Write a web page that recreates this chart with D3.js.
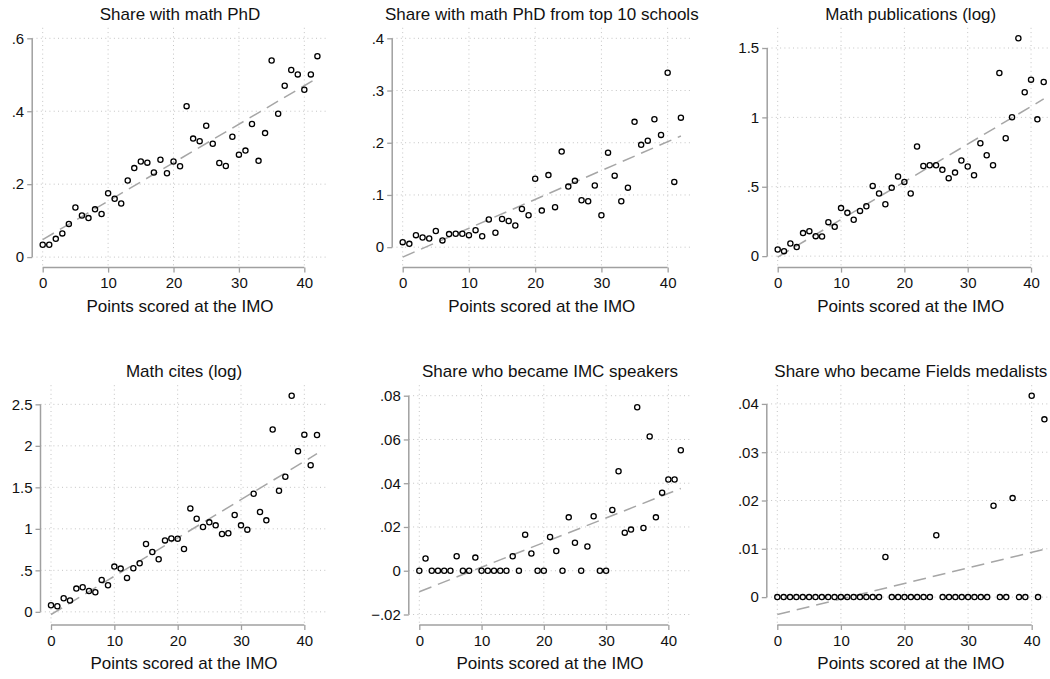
<!DOCTYPE html>
<html>
<head>
<meta charset="utf-8">
<script src="https://cdn.jsdelivr.net/npm/d3@7"></script>
<style>
  body { margin: 0; background: #fff; }
  svg { display: block; font-family: "Liberation Sans", Arial, sans-serif; }
</style>
</head>
<body>
<svg id="chart" width="1050" height="679"></svg>
<script>
// points scored at the IMO (x for every panel)
var pointsScored = [0,1,2,3,4,5,6,7,8,9,10,11,12,13,14,15,16,17,18,19,20,
  21,22,23,24,25,26,27,28,29,30,31,32,33,34,35,36,37,38,39,40,41,42];
var xTicks = [0, 10, 20, 30, 40];

// binned means
var mathPhd = [0.034,0.034,0.050,0.065,0.091,0.136,0.114,0.107,0.131,0.118,0.175,
  0.160,0.147,0.210,0.244,0.262,0.259,0.232,0.267,0.230,0.262,0.249,0.414,0.325,
  0.318,0.360,0.311,0.258,0.250,0.330,0.281,0.292,0.365,0.264,0.340,0.539,0.393,
  0.470,0.513,0.501,0.459,0.501,0.551];
var phdTop10 = [0.0096,0.0064,0.023,0.0185,0.0166,0.031,0.013,0.025,0.0256,0.0256,
  0.023,0.0326,0.021,0.053,0.0275,0.054,0.050,0.0415,0.073,0.061,0.131,0.070,0.138,
  0.0767,0.183,0.116,0.127,0.090,0.088,0.118,0.061,0.181,0.137,0.088,0.114,0.240,
  0.196,0.204,0.245,0.215,0.334,0.125,0.248];
var mathPubsLog = [0.048,0.036,0.091,0.065,0.166,0.180,0.144,0.142,0.245,0.211,0.346,
  0.312,0.262,0.326,0.360,0.506,0.451,0.374,0.492,0.574,0.535,0.451,0.790,0.650,
  0.655,0.655,0.622,0.562,0.602,0.689,0.646,0.583,0.814,0.727,0.655,1.320,0.850,
  1.001,1.570,1.181,1.272,0.986,1.255];
var mathCitesLog = [0.080,0.068,0.164,0.136,0.280,0.296,0.252,0.236,0.385,0.320,0.545,
  0.521,0.409,0.525,0.585,0.817,0.721,0.633,0.861,0.885,0.881,0.757,1.246,1.122,
  1.022,1.078,1.042,0.938,0.946,1.166,1.042,0.990,1.422,1.202,1.102,2.196,1.458,
  1.627,2.604,1.935,2.135,1.767,2.131];
var imcSpeakers = [0,0.0056,0,0,0,0,0.0066,0,0,0.006,0,0,0,0,0,0.0066,0,0.0165,0.0079,
  0,0,0.0154,0.0090,0,0.0244,0.0128,0,0.0111,0.0249,0,0,0.0278,0.0455,0.0174,0.0188,
  0.0747,0.0195,0.0614,0.0244,0.0357,0.0417,0.0417,0.0551];
var fieldsMedal = [0,0,0,0,0,0,0,0,0,0,0,0,0,0,0,0,0,0.0083,0,0,0,0,0,0,0,0.0128,
  0,0,0,0,0,0,0,0,0.0189,0,0,0.0205,0,0,0.0417,0,0.0368];

// linear fit, value at x = 0 and at x = 42
var fitPhd = [0.048, 0.491];
var fitTop10 = [-0.019, 0.213];
var fitPubs = [-0.007, 1.133];
var fitCites = [-0.032, 1.905];
var fitImc = [-0.0096, 0.0376];
var fitFields = [-0.0036, 0.0099];

// y ticks and their labels
var ticksPhd = [0, 0.2, 0.4, 0.6], labelsPhd = ["0", ".2", ".4", ".6"];
var ticksTop10 = [0, 0.1, 0.2, 0.3, 0.4], labelsTop10 = ["0", ".1", ".2", ".3", ".4"];
var ticksPubs = [0, 0.5, 1, 1.5], labelsPubs = ["0", ".5", "1", "1.5"];
var ticksCites = [0, 0.5, 1, 1.5, 2, 2.5], labelsCites = ["0", ".5", "1", "1.5", "2", "2.5"];
var ticksImc = [-0.02, 0, 0.02, 0.04, 0.06, 0.08], labelsImc = ["\u2212.02", "0", ".02", ".04", ".06", ".08"];
var ticksFields = [0, 0.01, 0.02, 0.03, 0.04], labelsFields = ["0", ".01", ".02", ".03", ".04"];

var titles = ["Share with math PhD", "Share with math PhD from top 10 schools",
  "Math publications (log)", "Math cites (log)", "Share who became IMC speakers",
  "Share who became Fields medalists"];
var xTitle = "Points scored at the IMO";

var panels = [
  { title: titles[0], values: mathPhd, fit: fitPhd, ticks: ticksPhd, labels: labelsPhd },
  { title: titles[1], values: phdTop10, fit: fitTop10, ticks: ticksTop10, labels: labelsTop10 },
  { title: titles[2], values: mathPubsLog, fit: fitPubs, ticks: ticksPubs, labels: labelsPubs },
  { title: titles[3], values: mathCitesLog, fit: fitCites, ticks: ticksCites, labels: labelsCites },
  { title: titles[4], values: imcSpeakers, fit: fitImc, ticks: ticksImc, labels: labelsImc },
  { title: titles[5], values: fieldsMedal, fit: fitFields, ticks: ticksFields, labels: labelsFields }
];

// layout of the inner plot areas
var innerLeft = [42.7, 402.7, 777.7, 51, 419.3, 777.3];
var innerRight = [317.4, 680.9, 1043.7, 317, 680.8, 1044.4];
var rowTop = [38.3, 395.7];
var innerH = 218.8;
var pad = 10.5;   // plot region margin around the data

var svg = d3.select("#chart");

panels.forEach(function (p, i) {
  var top = rowTop[Math.floor(i / 3)];
  var bottom = top + innerH;
  var left = innerLeft[i], right = innerRight[i];

  var x = d3.scaleLinear().domain([0, 42]).range([left, right]);

  // y range covers data, ticks and fitted line (like Stata)
  var allY = p.values.concat(p.ticks, p.fit);
  var y = d3.scaleLinear().domain(d3.extent(allY)).range([bottom, top]);

  var g = svg.append("g");

  // dotted grid
  g.append("g").selectAll("line")
    .data(p.ticks)
    .enter().append("line")
    .attr("x1", left - pad).attr("x2", right + pad)
    .attr("y1", function (d) { return y(d); })
    .attr("y2", function (d) { return y(d); })
    .attr("stroke", "#c4c4c4").attr("stroke-width", 1)
    .attr("stroke-dasharray", "1,3.3");
  g.append("g").selectAll("line")
    .data(xTicks)
    .enter().append("line")
    .attr("y1", top - pad).attr("y2", bottom + pad - 2)
    .attr("x1", function (d) { return x(d); })
    .attr("x2", function (d) { return x(d); })
    .attr("stroke", "#c4c4c4").attr("stroke-width", 1)
    .attr("stroke-dasharray", "1,3.3");

  // axes
  var yAxis = d3.axisLeft(y).tickValues(p.ticks)
    .tickFormat(function (d, k) { return p.labels[k]; })
    .tickSize(5).tickPadding(3).tickSizeOuter(0);
  var yg = g.append("g")
    .attr("transform", "translate(" + (left - pad) + ",0)")
    .call(yAxis);
  yg.select(".domain").remove();
  yg.append("line")
    .attr("x1", 0).attr("x2", 0)
    .attr("y1", y(p.ticks[0])).attr("y2", y(p.ticks[p.ticks.length - 1]))
    .attr("stroke", "#a0a0a0").attr("stroke-width", 1.5);

  var xAxis = d3.axisBottom(x).tickValues(xTicks)
    .tickSize(5).tickPadding(5).tickSizeOuter(0);
  var xg = g.append("g")
    .attr("transform", "translate(0," + (bottom + pad) + ")")
    .call(xAxis);
  xg.select(".domain").remove();
  xg.append("line")
    .attr("y1", 0).attr("y2", 0)
    .attr("x1", x(xTicks[0])).attr("x2", x(xTicks[xTicks.length - 1]))
    .attr("stroke", "#a0a0a0").attr("stroke-width", 1.5);

  [yg, xg].forEach(function (a) {
    a.selectAll(".tick line").attr("stroke", "#a0a0a0").attr("stroke-width", 1.3);
    a.selectAll(".tick text").attr("fill", "#111").style("font-size", "15px")
      .style("font-family", "'Liberation Sans', Arial, sans-serif");
  });

  // fitted line
  g.append("line")
    .attr("x1", x(0)).attr("y1", y(p.fit[0]))
    .attr("x2", x(42)).attr("y2", y(p.fit[1]))
    .attr("stroke", "#a6a6a6").attr("stroke-width", 1.5)
    .attr("stroke-dasharray", "13,7");

  // binned scatter
  g.append("g").selectAll("circle")
    .data(p.values)
    .enter().append("circle")
    .attr("cx", function (d, k) { return x(pointsScored[k]); })
    .attr("cy", function (d) { return y(d); })
    .attr("r", 2.6)
    .attr("fill", "none")
    .attr("stroke", "#000")
    .attr("stroke-width", 1.3);

  // titles
  g.append("text")
    .attr("x", (left + right) / 2).attr("y", top - 18.3)
    .attr("text-anchor", "middle")
    .style("font-size", "17px").attr("fill", "#111")
    .text(p.title);
  g.append("text")
    .attr("x", (left + right) / 2).attr("y", bottom + pad + 44)
    .attr("text-anchor", "middle")
    .style("font-size", "17px").attr("fill", "#111")
    .text(xTitle);
});
</script>
</body>
</html>
